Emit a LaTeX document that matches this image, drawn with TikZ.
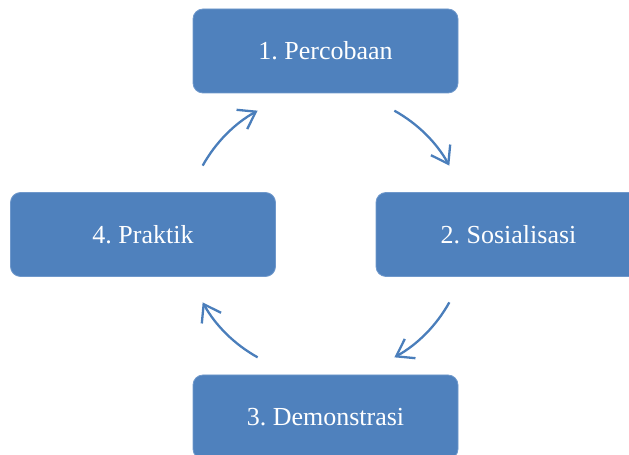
\documentclass[tikz,border=0pt]{standalone}
\usepackage{fontspec}
\setmainfont{Liberation Serif}
\usetikzlibrary{arrows.meta,calc}
\definecolor{boxblue}{HTML}{4F81BD}
\definecolor{boxedge}{HTML}{6F98CB}
\definecolor{arrblue}{HTML}{4A7EBB}
\frenchspacing
\tikzset{
  stagebox/.style={rounded corners=10pt, fill=boxblue, draw=boxedge, line width=0.8pt,
    minimum width=265pt, minimum height=84pt, text=white, inner sep=0pt,
    font=\fontsize{26}{30}\selectfont},
  cyclearrow/.style={draw=arrblue, line width=2.3pt,
    -{Straight Barb[length=16pt,width=22pt,line width=2.3pt]}}
}
\begin{document}
\begin{tikzpicture}[x=1pt,y=1pt]
\useasboundingbox (0,0) rectangle (629,455);
\node[stagebox] (p1) at (325.5,404) {1. Percobaan};
\node[stagebox] (p2) at (508.5,220.5) {2. Sosialisasi};
\node[stagebox] (p3) at (325.5,38) {3. Demonstrasi};
\node[stagebox] (p4) at (143,220.5) {4. Praktik};
\coordinate (c) at (326,221);
\coordinate (s1) at ($(c)+(61:141)$);
\coordinate (s2) at ($(c)+(-29:141)$);
\coordinate (s3) at ($(c)+(-119:141)$);
\coordinate (s4) at ($(c)+(151:141)$);
\draw[cyclearrow] (s1) arc[start angle=61, end angle=29, radius=141];
\draw[cyclearrow] (s2) arc[start angle=-29, end angle=-61, radius=141];
\draw[cyclearrow] (s3) arc[start angle=-119, end angle=-151, radius=141];
\draw[cyclearrow] (s4) arc[start angle=151, end angle=119, radius=141];
\end{tikzpicture}
\end{document}
